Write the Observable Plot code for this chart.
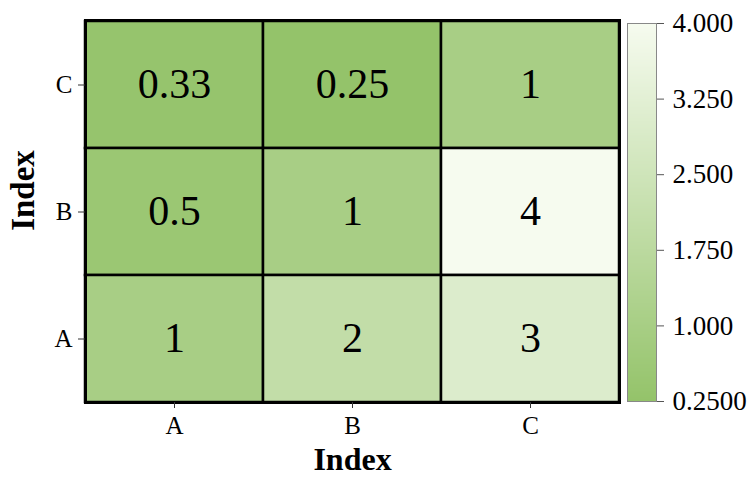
<!DOCTYPE html>
<html>
<head>
<meta charset="utf-8">
<script src="https://cdn.jsdelivr.net/npm/d3@7"></script>
<script src="https://cdn.jsdelivr.net/npm/@observablehq/plot@0.6"></script>
<style>
  html, body { margin: 0; padding: 0; background: #fff; }
  #wrap { position: relative; width: 755px; height: 477px; }
  #wrap svg { position: absolute; top: 0; }
</style>
</head>
<body>
<div id="wrap"></div>
<script>
// ---- data ----
const xCategories = ["A", "B", "C"];
const yCategories = ["C", "B", "A"];          // top to bottom
const rowC = [0.33, 0.25, 1];
const rowB = [0.5, 1, 4];
const rowA = [1, 2, 3];
const colorTicks = [0.25, 1, 1.75, 2.5, 3.25, 4];
const colorTickLabels = ["0.2500", "1.000", "1.750", "2.500", "3.250", "4.000"];
const colorDomain = [0.25, 4];
const colorRange = ["#94c36a", "#f6fbef"];

const rows = { C: rowC, B: rowB, A: rowA };
const cells = [];
for (const y of yCategories) {
  rows[y].forEach((v, i) => cells.push({ x: xCategories[i], y, value: v, label: String(v) }));
}

const font = "'Liberation Serif', 'Times New Roman', serif";
const colorOpts = { type: "linear", domain: colorDomain, range: colorRange, interpolate: "rgb" };

const main = Plot.plot({
  width: 755,
  height: 477,
  marginLeft: 85,
  marginRight: 136,
  marginTop: 20,
  marginBottom: 75,
  style: { fontFamily: font, background: "transparent" },
  x: { type: "band", domain: xCategories, padding: 0 },
  y: { type: "band", domain: yCategories, padding: 0 },
  color: colorOpts,
  marks: [
    Plot.cell(cells, { x: "x", y: "y", fill: "value", stroke: "black", strokeWidth: 2.5, inset: 0 }),
    Plot.text(cells, { x: "x", y: "y", text: "label", fontSize: 42, fill: "black", fontFamily: font }),
    Plot.frame({ stroke: "black", strokeWidth: 3 }),
    Plot.axisX({ tickSize: 6, tickPadding: 8, fontSize: 25, label: null, stroke: "#333", fill: "black" }),
    Plot.axisY({ tickSize: 7, tickPadding: 6, fontSize: 25, label: null, stroke: "#333", fill: "black" }),
    Plot.text(["Index"], { frameAnchor: "bottom", textAnchor: "middle", lineAnchor: "middle", dy: 57, fontSize: 32, fontWeight: "bold", fill: "black", fontFamily: font }),
    Plot.text(["Index"], { frameAnchor: "left", textAnchor: "middle", lineAnchor: "middle", rotate: -90, dx: -62, dy: -21, fontSize: 33, fontWeight: "bold", fill: "black", fontFamily: font })
  ]
});
document.getElementById("wrap").appendChild(main);

const bar = Plot.plot({
  width: 155,
  height: 477,
  marginLeft: 27,
  marginRight: 99,
  marginTop: 23,
  marginBottom: 76,
  style: { fontFamily: font, background: "transparent", overflow: "visible" },
  x: { domain: [0, 1], axis: null },
  y: { domain: colorDomain },
  color: colorOpts,
  marks: [
    Plot.raster({ fill: (x, y) => y, width: 1, height: 400, x1: 0, x2: 1, y1: colorDomain[0], y2: colorDomain[1] }),
    Plot.frame({ stroke: "#888", strokeWidth: 1 }),
    Plot.axisY({
      anchor: "right", ticks: colorTicks,
      tickFormat: (d) => colorTickLabels[colorTicks.indexOf(d)],
      tickSize: 7, tickPadding: 9, fontSize: 27, label: null, stroke: "#555", fill: "black"
    })
  ]
});
bar.style.left = "600px";
document.getElementById("wrap").appendChild(bar);
</script>
</body>
</html>
